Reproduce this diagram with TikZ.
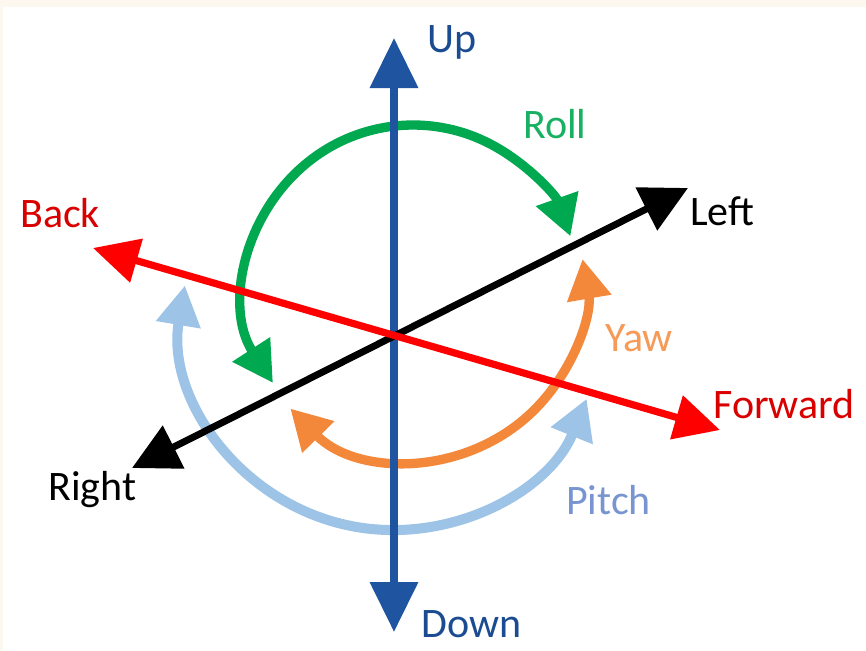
\documentclass[tikz,border=0pt]{standalone}
\usepackage{fontspec}
\setmainfont{Carlito}
\usetikzlibrary{arrows.meta}

\definecolor{paper}{RGB}{253,248,239}
\definecolor{upblue}{RGB}{30,84,160}
\definecolor{rollgreen}{RGB}{0,168,80}
\definecolor{yaworange}{RGB}{244,136,58}
\definecolor{pitchblue}{RGB}{157,195,230}
\definecolor{fwdred}{RGB}{255,0,0}

\begin{document}
\begin{tikzpicture}[x=0.75pt, y=-0.75pt,
  lbl/.style={anchor=base west, inner sep=0pt, font=\fontsize{31.5}{36}\selectfont},
  axisline/.style={line width=#1},
  turnarc/.style={line width=7pt, >={Triangle[length=30pt,width=32pt]}, <->}]

% page
\fill[paper] (0,0) rectangle (866,650);
\fill[white] (3,7) rectangle (866,650);
\useasboundingbox (0,0) rectangle (866,650);

% axis ends
\coordinate (upT) at (394,38);
\coordinate (downT) at (394,632);
\coordinate (leftT) at (688,188);
\coordinate (rightT) at (132,468);
\coordinate (backT) at (93,248);
\coordinate (fwdT) at (720,430);

% arc centres
\coordinate (rollC) at (413,292);
\coordinate (yawC) at (413,288);
\coordinate (pitchC) at (392,320);

% rotations
\draw[turnarc, pitchblue, line width=7.5pt] (pitchC) ++(189.5:210) arc[start angle=189.5, end angle=22, radius=210];
\draw[turnarc, yaworange] (yawC) ++(135.5:172) arc[start angle=135.5, end angle=-9.7, radius=172];
\draw[turnarc, rollgreen] (rollC) ++(147:167) arc[start angle=147, end angle=340.5, radius=167];

% axes
\draw[axisline=6pt, upblue, {Triangle[length=37.5pt,width=35pt]}-{Triangle[length=37.5pt,width=35pt]}] (upT) -- (downT);
\draw[axisline=5.2pt, black, {Triangle[length=35pt,width=35pt]}-{Triangle[length=35pt,width=35pt]}] (rightT) -- (leftT);
\draw[axisline=5.4pt, fwdred, {Triangle[length=34pt,width=33pt]}-{Triangle[length=34pt,width=33pt]}] (backT) -- (fwdT);

% labels
\node[lbl, text=upblue!90!black] (up) at (427,52) {Up};
\node[lbl, text=upblue!90!black] (down) at (421,637) {Down};
\node[lbl, text=rollgreen!90!white] (roll) at (523,138) {Roll};
\node[lbl, text=black] (left) at (690,225) {Left};
\node[lbl, text=black] (right) at (48,500) {Right};
\node[lbl, text=fwdred!85!black] (back) at (20,227) {Back};
\node[lbl, text=fwdred!85!black] (fwd) at (713,418) {Forward};
\node[lbl, text=yaworange!85!white] (yaw) at (605,351) {Yaw};
\node[lbl, text=pitchblue!85!blue!90!black] (pitch) at (566,514) {Pitch};
\end{tikzpicture}
\end{document}
